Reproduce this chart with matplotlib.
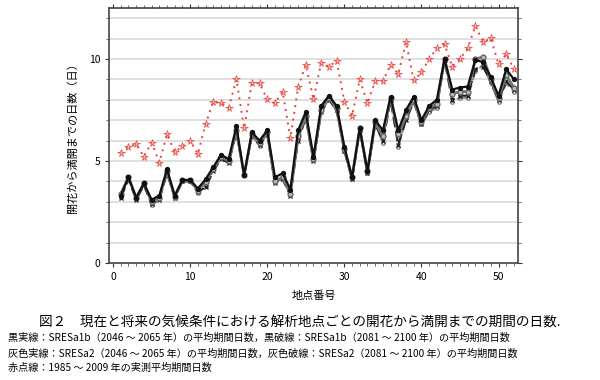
import numpy as np
import matplotlib
matplotlib.use("Agg")
import matplotlib.pyplot as plt
from matplotlib.ticker import MultipleLocator

plt.rcParams['font.family'] = ['Noto Sans CJK JP', 'DejaVu Sans']

sites = list(range(1, 53))

observed = [5.41, 5.70, 5.82, 5.21, 5.90, 4.92, 6.31, 5.43, 5.72, 6.00,
            5.34, 6.81, 7.90, 7.83, 7.62, 9.00, 6.60, 8.81, 8.81, 8.02,
            7.83, 8.40, 6.11, 8.61, 9.72, 8.02, 9.82, 9.62, 9.92, 7.91,
            7.21, 9.00, 7.83, 8.92, 8.92, 9.72, 9.26, 10.83, 8.95, 9.35,
            10.00, 10.52, 10.72, 9.62, 10.00, 10.52, 11.63, 10.83, 11.01, 9.75,
            10.24, 9.51]

a1b_2046 = [3.30, 4.20, 3.20, 3.90, 3.10, 3.30, 4.60, 3.30, 4.07, 4.07,
            3.65, 4.10, 4.70, 5.30, 5.10, 6.70, 4.30, 6.40, 6.00, 6.50,
            4.20, 4.40, 3.60, 6.50, 7.40, 5.20, 7.70, 8.20, 7.70, 5.70,
            4.20, 6.60, 4.50, 7.00, 6.50, 8.15, 6.50, 7.50, 8.15, 7.00,
            7.70, 8.00, 10.00, 8.50, 8.60, 8.65, 9.95, 9.85, 9.10, 8.20,
            9.50, 9.00]

a2_2046 = [3.40, 4.20, 3.20, 3.90, 3.00, 3.20, 4.50, 3.25, 4.05, 4.05,
           3.55, 3.95, 4.60, 5.20, 5.00, 6.50, 4.30, 6.30, 5.90, 6.40,
           4.00, 4.20, 3.40, 6.20, 7.20, 5.10, 7.50, 8.10, 7.60, 5.60,
           4.20, 6.60, 4.50, 6.90, 6.20, 8.10, 6.30, 7.20, 8.00, 6.90,
           7.60, 7.80, 10.00, 8.30, 8.40, 8.40, 10.00, 10.10, 9.00, 8.10,
           9.20, 8.60]

a1b_2081 = [3.20, 4.10, 3.10, 3.80, 2.90, 3.10, 4.40, 3.20, 4.00, 4.00,
            3.50, 3.70, 4.50, 5.10, 4.90, 6.40, 4.30, 6.20, 5.80, 6.30,
            3.90, 4.10, 3.30, 6.00, 7.10, 5.00, 7.40, 8.00, 7.50, 5.50,
            4.10, 6.50, 4.40, 6.80, 6.00, 8.00, 5.80, 7.00, 7.90, 6.80,
            7.50, 7.70, 10.00, 8.00, 8.20, 8.20, 9.50, 9.60, 8.90, 8.00,
            8.90, 8.50]

a2_2081 = [3.25, 4.15, 3.15, 3.85, 2.85, 3.15, 4.45, 3.25, 4.00, 4.00,
           3.45, 3.75, 4.55, 5.15, 4.95, 6.45, 4.30, 6.25, 5.75, 6.35,
           3.95, 4.15, 3.35, 6.10, 7.15, 5.05, 7.45, 8.05, 7.45, 5.50,
           4.10, 6.50, 4.40, 6.80, 5.90, 8.00, 5.70, 7.10, 7.90, 6.80,
           7.40, 7.60, 9.90, 7.90, 8.10, 8.10, 9.40, 9.70, 8.80, 7.90,
           8.80, 8.40]

fig = plt.figure(figsize=(6, 3.8), dpi=100)
ax = fig.add_axes([0.182, 0.308, 0.681, 0.671])

ax.set_xlim(-0.5, 52.5)
ax.set_ylim(0, 12.5)

for yv in range(1, 13):
    ax.axhline(yv, color='#dddddd', lw=1.3, zorder=0)

ax.plot(sites, a2_2081, color='#888888', lw=1.5, ls=(0, (5, 2)),
        marker='o', ms=2.5, mfc='none', mec='#888888', zorder=2)
ax.plot(sites, a1b_2081, color='#222222', lw=1.5, ls=(0, (5, 2)),
        marker='x', ms=2.5, mec='#222222', zorder=3)
ax.plot(sites, a2_2046, color='#777777', lw=2.0,
        marker='o', ms=3.5, mfc='#bbbbbb', mec='#666666', zorder=4)
ax.plot(sites, a1b_2046, color='#111111', lw=1.6,
        marker='o', ms=2.8, mfc='#111111', mec='#111111', zorder=5)
ax.plot(sites, observed, color='#e8413a', lw=1.4, ls=(0, (1, 2.5)),
        marker='*', ms=5.5, mfc='#f8c4c0', mec='#e8413a', mew=0.5, zorder=6)

ax.xaxis.set_major_locator(MultipleLocator(10))
ax.xaxis.set_minor_locator(MultipleLocator(1))
ax.yaxis.set_major_locator(MultipleLocator(5))
ax.yaxis.set_minor_locator(MultipleLocator(1))
ax.tick_params(axis='both', which='major', labelsize=7.5, length=3,
               width=0.8, color='#333333', top=True, right=True, direction='out')
ax.tick_params(axis='both', which='minor', length=2, width=0.6,
               color='#555555', top=True, right=True, direction='out')

for s in ax.spines.values():
    s.set_color('#444444')
    s.set_linewidth(1.2)

ax.set_xlabel('地点番号', fontsize=8, labelpad=6)
ax.set_ylabel('開花から満開までの日数（日）', fontsize=8, labelpad=8)

fig.text(0.5, 0.150, '図２　現在と将来の気候条件における解析地点ごとの開花から満開までの期間の日数.',
         ha='center', va='center', fontsize=9.8)
lines = [
    '黒実線：SRESa1b（2046 ～ 2065 年）の平均期間日数，黒破線：SRESa1b（2081 ～ 2100 年）の平均期間日数',
    '灰色実線：SRESa2（2046 ～ 2065 年）の平均期間日数，灰色破線：SRESa2（2081 ～ 2100 年）の平均期間日数',
    '赤点線：1985 ～ 2009 年の実測平均期間日数',
]
ypos = [0.111, 0.069, 0.032]
for t, yy in zip(lines, ypos):
    fig.text(0.013, yy, t, ha='left', va='center', fontsize=7.3)

fig.savefig('out.png', dpi=100)
